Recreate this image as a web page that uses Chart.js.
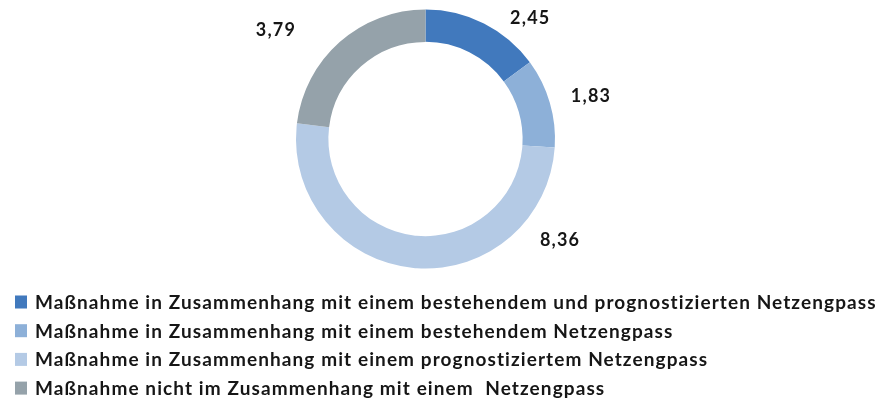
<!DOCTYPE html>
<html>
<head>
<meta charset="utf-8">
<script src="https://cdn.jsdelivr.net/npm/chart.js@4.4.1/dist/chart.umd.min.js"></script>
<style>
html, body { margin: 0; padding: 0; background: #ffffff; }
#wrap { width: 892px; height: 400px; position: relative; }
</style>
</head>
<body>
<div id="wrap"><canvas id="c" width="892" height="400"></canvas></div>
<script>
// ---- data ----
const categories = [
  'Maßnahme in Zusammenhang mit einem bestehendem und prognostizierten Netzengpass',
  'Maßnahme in Zusammenhang mit einem bestehendem Netzengpass',
  'Maßnahme in Zusammenhang mit einem prognostiziertem Netzengpass',
  'Maßnahme nicht im Zusammenhang mit einem  Netzengpass'
];
const values = [2.45, 1.83, 8.36, 3.79];
const sliceColors = ['#4179BD', '#8DB0D8', '#B4CAE5', '#95A2AA'];

// ---- plugins ----
const valueLabels = {
  id: 'valueLabels',
  afterDatasetsDraw(chart, args, opts) {
    const ctx = chart.ctx;
    const meta = chart.getDatasetMeta(0);
    const ds = chart.data.datasets[0];
    ctx.save();
    ctx.font = opts.font;
    ctx.fillStyle = opts.color;
    ctx.textAlign = 'center';
    ctx.textBaseline = 'alphabetic';
    if ('letterSpacing' in ctx) ctx.letterSpacing = opts.letterSpacing + 'px';
    meta.data.forEach((arc, i) => {
      const p = arc.getProps(['x', 'y', 'startAngle', 'endAngle', 'outerRadius'], true);
      const mid = (p.startAngle + p.endAngle) / 2 + opts.angleShift[i] * Math.PI / 180;
      const r = p.outerRadius + opts.gap[i];
      const cx = p.x + Math.cos(mid) * r;
      const cy = p.y + Math.sin(mid) * r;
      const txt = ds.data[i].toFixed(2).replace('.', ',');
      ctx.fillText(txt, cx, cy + opts.capHeight / 2);
    });
    ctx.restore();
  }
};

const listLegend = {
  id: 'listLegend',
  afterDraw(chart, args, opts) {
    const ctx = chart.ctx;
    const labels = chart.data.labels;
    const cols = chart.data.datasets[0].backgroundColor;
    ctx.save();
    ctx.font = opts.font;
    ctx.textAlign = 'left';
    ctx.textBaseline = 'alphabetic';
    let sx = 1;
    if ('letterSpacing' in ctx) {
      ctx.letterSpacing = '0px';
      const w = ctx.measureText(labels[0]).width;
      ctx.letterSpacing = ((opts.firstLineWidth - w) / labels[0].length) + 'px';
    } else {
      sx = opts.firstLineWidth / ctx.measureText(labels[0]).width;
    }
    labels.forEach((t, i) => {
      const cy = opts.top + i * opts.rowHeight;
      ctx.fillStyle = cols[i];
      ctx.fillRect(opts.boxX, cy - opts.boxH / 2, opts.boxW, opts.boxH);
      ctx.fillStyle = opts.color;
      ctx.save();
      ctx.translate(opts.textX, cy + opts.capHeight / 2);
      ctx.scale(sx, 1);
      ctx.fillText(t, 0, 0);
      ctx.restore();
    });
    ctx.restore();
  }
};

function build() {
  new Chart(document.getElementById('c'), {
    type: 'doughnut',
    data: {
      labels: categories,
      datasets: [{
        data: values,
        backgroundColor: sliceColors,
        borderWidth: 0,
        hoverOffset: 0
      }]
    },
    options: {
      responsive: false,
      animation: false,
      cutout: '75%',
      layout: { padding: { top: 9.5, bottom: 131.5, left: 0, right: 41 } },
      plugins: {
        legend: { display: false },
        tooltip: { enabled: false },
        valueLabels: {
          font: 'bold 18px Lato',
          color: '#161616',
          letterSpacing: 1.2,
          capHeight: 13,
          angleShift: [13.9, 1.7, -58.5, -12.2],
          gap: [31, 41.5, 38.7, 56]
        },
        listLegend: {
          font: 'bold 19px Lato',
          color: '#161616',
          firstLineWidth: 842,
          top: 302,
          rowHeight: 28.7,
          boxX: 15, boxW: 12, boxH: 13,
          textX: 35,
          capHeight: 13.6
        }
      }
    },
    plugins: [valueLabels, listLegend]
  });
}

if (document.fonts && document.fonts.load) {
  document.fonts.load('bold 19px Lato').then(build, build);
} else {
  build();
}
</script>
</body>
</html>
